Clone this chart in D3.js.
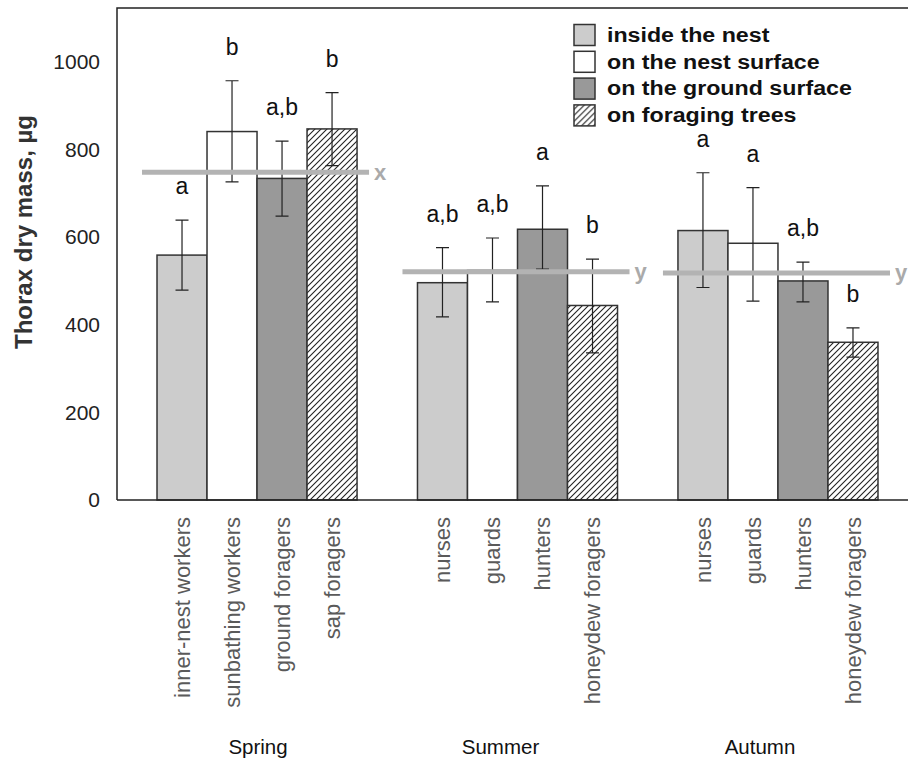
<!DOCTYPE html>
<html>
<head>
<meta charset="utf-8">
<script src="https://cdn.jsdelivr.net/npm/d3@7"></script>
<style>
  body { margin: 0; background: #fff; }
  svg { display: block; font-family: Arial, "Liberation Sans", sans-serif; }
</style>
</head>
<body>
<svg id="chart" width="908" height="763"></svg>
<script>
// data
const seasons = ['Spring', 'Summer', 'Autumn'];
const habitats = ['inside the nest', 'on the nest surface', 'on the ground surface', 'on foraging trees'];
const castes = [
  ['inner-nest workers', 'sunbathing workers', 'ground foragers', 'sap foragers'],
  ['nurses', 'guards', 'hunters', 'honeydew foragers'],
  ['nurses', 'guards', 'hunters', 'honeydew foragers']
];
const means = [[559, 841, 734, 847], [496, 524, 618, 444], [615, 586, 500, 360]];
const errLow = [[479, 726, 648, 763], [418, 452, 527, 336], [485, 454, 452, 326]];
const errHigh = [[639, 957, 819, 930], [576, 598, 717, 550], [747, 713, 543, 393]];
const letters = [['a', 'b', 'a,b', 'b'], ['a,b', 'a,b', 'a', 'b'], ['a', 'a', 'a,b', 'b']];
const seasonMean = [748, 521, 518];
const seasonMeanLabel = ['x', 'y', 'y'];
const yTicks = [0, 200, 400, 600, 800, 1000];

const fills = ['#cccccc', '#ffffff', '#999999', 'url(#hatch)'];

const svg = d3.select('#chart');
const mLeft = 117, mRight = 918, mTop = 8, mBottom = 500;

const y = d3.scaleLinear().domain([0, 1123]).range([mBottom, mTop]);
const x0 = d3.scaleBand().domain(seasons).range([mLeft, mRight]).paddingInner(0.232).paddingOuter(0.1536);
const x1 = d3.scaleBand().domain(d3.range(4)).range([0, x0.bandwidth()]);

const defs = svg.append('defs');
const pat = defs.append('pattern')
  .attr('id', 'hatch')
  .attr('patternUnits', 'userSpaceOnUse')
  .attr('width', 6).attr('height', 6);
pat.append('rect').attr('width', 6).attr('height', 6).attr('fill', '#fff');
pat.append('path')
  .attr('d', 'M0,6 L6,0 M-1,1 L1,-1 M5,7 L7,5')
  .attr('stroke', '#222').attr('stroke-width', 1.1);

// frame
svg.append('path')
  .attr('d', `M${mLeft},${mBottom} L${mLeft},${mTop} L${mRight},${mTop}`)
  .attr('fill', 'none').attr('stroke', '#222').attr('stroke-width', 1.5);

// y axis labels
const yAxis = svg.append('g')
  .attr('transform', `translate(${mLeft},0)`)
  .call(d3.axisLeft(y).tickValues(yTicks).tickSize(0).tickPadding(17).tickFormat(d3.format('d')));
yAxis.select('.domain').remove();
yAxis.selectAll('text').attr('font-size', 21).attr('fill', '#222')
  .attr('font-family', 'Arial, "Liberation Sans", sans-serif');

svg.append('text')
  .attr('transform', 'translate(32,232) rotate(-90)')
  .attr('text-anchor', 'middle')
  .attr('font-size', 24).attr('font-weight', 'bold').attr('fill', '#333')
  .text('Thorax dry mass, µg');

const cells = [];
seasons.forEach((s, i) => {
  castes[i].forEach((c, j) => {
    cells.push({ season: s, si: i, j: j, caste: c, mean: means[i][j],
      lo: errLow[i][j], hi: errHigh[i][j], letter: letters[i][j] });
  });
});
const cx = d => x0(d.season) + x1(d.j) + x1.bandwidth() / 2;

// bars
svg.append('g').selectAll('rect')
  .data(cells).join('rect')
  .attr('x', d => x0(d.season) + x1(d.j))
  .attr('y', d => y(d.mean))
  .attr('width', x1.bandwidth())
  .attr('height', d => y(0) - y(d.mean))
  .attr('fill', d => fills[d.j])
  .attr('stroke', '#333').attr('stroke-width', 1.5);

// error bars
const eb = svg.append('g').attr('stroke', '#222').attr('stroke-width', 1.2);
eb.selectAll('path')
  .data(cells).join('path')
  .attr('fill', 'none')
  .attr('d', d => {
    const c = cx(d), w = 6.5;
    return `M${c},${y(d.lo)} L${c},${y(d.hi)} M${c - w},${y(d.lo)} L${c + w},${y(d.lo)} M${c - w},${y(d.hi)} L${c + w},${y(d.hi)}`;
  });

// significance letters
svg.append('g').selectAll('text')
  .data(cells).join('text')
  .attr('x', cx)
  .attr('y', d => y(d.hi) - 26)
  .attr('text-anchor', 'middle')
  .attr('font-size', 23).attr('fill', '#111')
  .text(d => d.letter);

// season mean lines
seasons.forEach((s, i) => {
  const xa = x0(s) - 15, xb = x0(s) + x0.bandwidth() + 12;
  svg.append('line')
    .attr('x1', xa).attr('x2', xb)
    .attr('y1', y(seasonMean[i])).attr('y2', y(seasonMean[i]))
    .attr('stroke', '#b3b3b3').attr('stroke-width', 5);
  svg.append('text')
    .attr('x', xb + 5).attr('y', y(seasonMean[i]))
    .attr('dy', '0.33em')
    .attr('font-size', 22).attr('font-weight', 'bold').attr('fill', '#aaaaaa')
    .text(seasonMeanLabel[i]);
});

// bottom axis line
svg.append('line')
  .attr('x1', mLeft).attr('x2', mRight)
  .attr('y1', mBottom).attr('y2', mBottom)
  .attr('stroke', '#222').attr('stroke-width', 1.5);

// caste labels
svg.append('g').selectAll('text')
  .data(cells).join('text')
  .attr('transform', d => `translate(${cx(d)},517) rotate(-90)`)
  .attr('dy', '0.35em')
  .attr('text-anchor', 'end')
  .attr('font-size', 22).attr('fill', '#5a5a5a')
  .text(d => d.caste);

// season labels
const seasonNudge = [1, -17, -18];
svg.append('g').selectAll('text')
  .data(seasons).join('text')
  .attr('x', (d, i) => x0(d) + x0.bandwidth() / 2 + seasonNudge[i])
  .attr('y', 754)
  .attr('text-anchor', 'middle')
  .attr('font-size', 20.5).attr('fill', '#111')
  .text(d => d);

// legend
const lg = svg.append('g').attr('transform', 'translate(574,35)');
habitats.forEach((h, i) => {
  const row = lg.append('g').attr('transform', `translate(0,${i * 26.8})`);
  row.append('rect')
    .attr('x', 0).attr('y', -10.5).attr('width', 21).attr('height', 21)
    .attr('fill', fills[i]).attr('stroke', '#333').attr('stroke-width', 1.5);
  row.append('text')
    .attr('transform', 'translate(33,0) scale(1.19,1)')
    .attr('dy', '0.35em')
    .attr('font-size', 19.5).attr('font-weight', 'bold').attr('fill', '#111')
    .text(h);
});
</script>
</body>
</html>
